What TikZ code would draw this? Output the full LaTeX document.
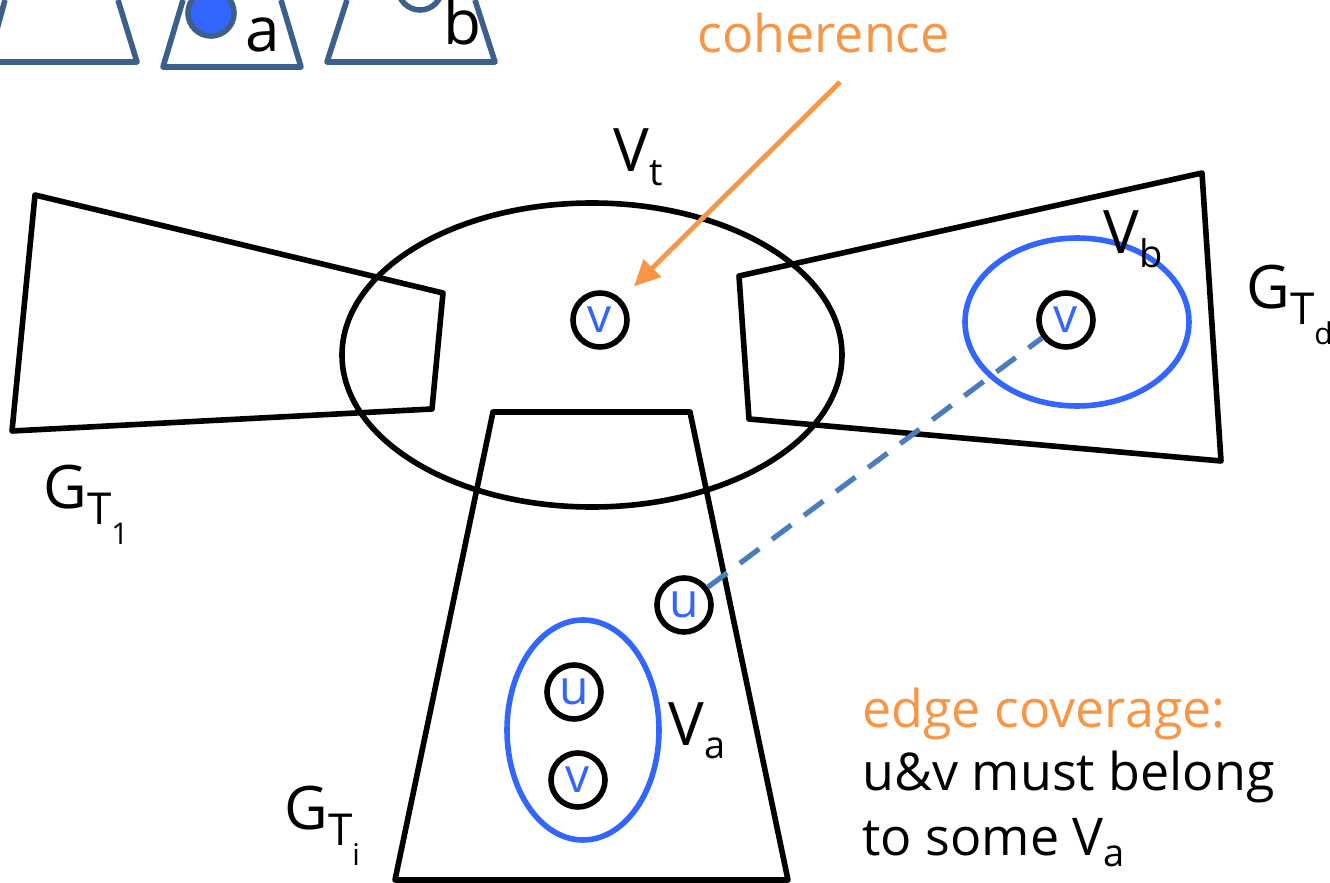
\documentclass[tikz,border=0pt]{standalone}
\usepackage{fontspec}
\setmainfont{Open Sans}
\usetikzlibrary{arrows.meta}
\definecolor{orng}{HTML}{F79646}
\definecolor{vblue}{HTML}{3366FF}
\definecolor{steel}{HTML}{3C5F8C}
\definecolor{dashb}{HTML}{4A7EBB}
\newcommand\gsub[1]{G\raisebox{-0.28em}{\fontsize{22}{22}\selectfont T\raisebox{-0.45em}{\fontsize{15}{15}\selectfont #1}}}
\newcommand\vsub[1]{V\raisebox{-0.22em}{\fontsize{19}{19}\selectfont #1}}
\begin{document}
\begin{tikzpicture}[x=0.5pt,y=-0.5pt,line join=round,
  poly/.style={draw=black,line width=2.8pt},
  blueell/.style={draw=vblue,line width=2.8pt},
  topshape/.style={draw=steel,line width=2.8pt},
  vert/.style={circle,draw=black,line width=2.8pt,minimum size=27pt,inner sep=0pt,text=vblue,font=\fontsize{24}{24}\selectfont},
  lbl/.style={font=\fontsize{30}{30}\selectfont,anchor=base west,inner sep=0pt},
  txt/.style={font=\fontsize{26}{26}\selectfont,anchor=base west,inner sep=0pt},
  conn/.style={dashb,line width=2.6pt,dash pattern=on 12pt off 8pt},
  arr/.style={orng,line width=2.4pt,-{Triangle[length=13pt,width=12pt]}}]
\clip (0,0) rectangle (1330,883);
\fill[white] (0,0) rectangle (1330,883);
% top row of small trapezoids
\draw[topshape] (5,0) -- (-12,62) -- (137,62) -- (118,0);
\draw[topshape] (183,0) -- (163,67) -- (301,67) -- (281,0);
\draw[topshape] (347,0) -- (327,62) -- (495,62) -- (475,0);
\draw[topshape,fill=vblue] (211,13) circle [radius=23];
\draw[topshape,fill=white] (420,-12) circle [radius=22];
\node[lbl,font=\fontsize{31}{31}\selectfont] (la) at (245,52) {a};
\node[lbl,font=\fontsize{31}{31}\selectfont] (lb) at (443,45) {b};
% main shapes
\draw[poly] (35,195) -- (443,293) -- (432,409) -- (12,431) -- cycle;
\draw[poly] (592,355) ellipse [x radius=250,y radius=152];
\draw[poly] (739,276) -- (1202,173) -- (1221,461) -- (749,419) -- cycle;
\draw[poly] (493,412) -- (690,412) -- (788,880) -- (395,880) -- cycle;
\draw[blueell] (1077,322) ellipse [x radius=112,y radius=84];
\draw[blueell] (583,730) ellipse [x radius=76,y radius=110];
% vertices
\node[vert] (vt) at (600,320) {v};
\node[vert] (vd) at (1066,320) {v};
\node[vert] (uo) at (684,605) {u};
\node[vert] (ua) at (574,692) {u};
\node[vert] (va) at (578,780) {v};
% connectors
\draw[conn] (uo) -- (vd);
\coordinate (cohs) at (840,82);
\draw[arr,shorten >=9pt] (cohs) -- (vt);
% labels
\node[txt,text=orng] (coh) at (697,53) {coherence};
\node[lbl] (lvt) at (613,172) {\vsub{t}};
\node[lbl] (lvb) at (1103,254) {\vsub{b}};
\node[lbl] (lva) at (668,745) {\vsub{a}};
\node[lbl] (lgd) at (1246,308) {\gsub{d}};
\node[lbl] (lg1) at (43,508) {\gsub{1}};
\node[lbl] (lgi) at (284,829) {\gsub{i}};
\node[txt,text=orng] (ec1) at (862,727) {edge coverage:};
\node[txt] (ec2) at (862,790) {u\&v must belong};
\node[txt] (ec3) at (862,855) {to some \vsub{a}};
\end{tikzpicture}
\end{document}
